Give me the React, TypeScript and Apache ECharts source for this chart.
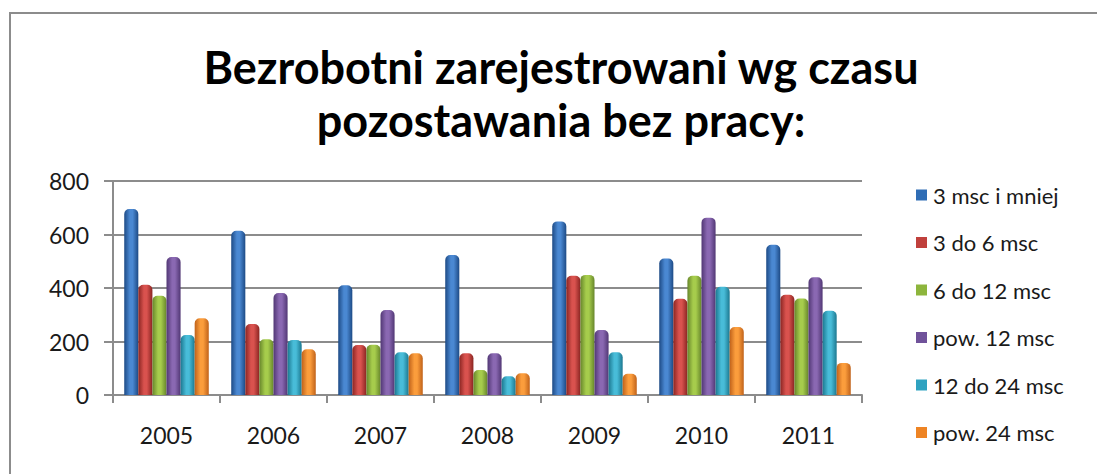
import React, { useEffect, useRef } from "react";
import * as echarts from "echarts";

const categories = ["2005", "2006", "2007", "2008", "2009", "2010", "2011"];
const seriesNames = ["3 msc i mniej", "3 do 6 msc", "6 do 12 msc", "pow. 12 msc", "12 do 24 msc", "pow. 24 msc"];
const s3mniej = [695, 614, 410, 523, 649, 510, 562];
const s3do6 = [412, 265, 187, 156, 446, 360, 375];
const s6do12 = [371, 208, 188, 93, 449, 446, 361];
const pow12 = [516, 381, 318, 156, 243, 663, 440];
const s12do24 = [224, 206, 160, 70, 160, 405, 315];
const pow24 = [287, 171, 156, 81, 79, 254, 120];
const yTicks = [0, 200, 400, 600, 800];

const seriesValues = [s3mniej, s3do6, s6do12, pow12, s12do24, pow24];
const palette = [
  { edge: "#1d4a85", mid: "#4a88d2", base: "#2f6db5" },
  { edge: "#8a2522", mid: "#d9524e", base: "#c0403c" },
  { edge: "#67862b", mid: "#a6cc4c", base: "#8db53c" },
  { edge: "#513774", mid: "#8a68b2", base: "#70529a" },
  { edge: "#1c7890", mid: "#48bcd8", base: "#2fa2c0" },
  { edge: "#c0621a", mid: "#fb9d3c", base: "#ee8424" },
];

function grad(p: { edge: string; mid: string }) {
  return new echarts.graphic.LinearGradient(0, 0, 1, 0, [
    { offset: 0, color: p.edge },
    { offset: 0.4, color: p.mid },
    { offset: 0.6, color: p.mid },
    { offset: 1, color: p.edge },
  ]);
}

export default function App() {
  const ref = useRef<HTMLDivElement>(null);
  useEffect(() => {
    if (!ref.current) return;
    const chart = echarts.init(ref.current, null, { renderer: "svg" });
    const font = "Lato, 'Open Sans', sans-serif";
    chart.setOption({
      animation: false,
      backgroundColor: "#ffffff",
      title: {
        text: "Bezrobotni zarejestrowani wg czasu\npozostawania bez pracy:",
        left: 556,
        textAlign: "center",
        top: 35,
        textStyle: {
          fontFamily: font,
          fontWeight: "bold",
          fontSize: 45,
          lineHeight: 53,
          color: "#000",
        },
      },
      graphic: [
        {
          type: "rect",
          shape: { x: 10, y: 13, width: 1100, height: 480 },
          style: { fill: "none", stroke: "#8c8c8c", lineWidth: 2 },
          silent: true,
        },
      ],
      legend: {
        orient: "vertical",
        left: 911,
        top: 179,
        itemWidth: 11,
        itemHeight: 11,
        itemGap: 25.5,
        icon: "rect",
        textStyle: { fontFamily: font, fontSize: 22, color: "#1a1a1a", lineHeight: 20, padding: [0, 0, 0, 1] },
        data: seriesNames.map((n, i) => ({ name: n, itemStyle: { color: palette[i].base } })),
      },
      grid: { left: 113, right: 235, top: 181, bottom: 79, containLabel: false },
      xAxis: {
        type: "category",
        data: categories,
        axisLine: { lineStyle: { color: "#8c8c8c", width: 2 } },
        axisTick: { show: true, length: 8, lineStyle: { color: "#8c8c8c", width: 2 } },
        axisLabel: { fontFamily: font, fontSize: 23, color: "#1a1a1a", margin: 28 },
      },
      yAxis: {
        type: "value",
        min: yTicks[0],
        max: yTicks[yTicks.length - 1],
        interval: 200,
        axisLine: { show: true, lineStyle: { color: "#8c8c8c", width: 2 } },
        axisTick: { show: true, length: 9, lineStyle: { color: "#8c8c8c", width: 2 } },
        splitLine: { lineStyle: { color: "#8c8c8c", width: 2 } },
        axisLabel: { fontFamily: font, fontSize: 23, color: "#1a1a1a", margin: 24 },
      },
      series: seriesNames.map((n, i) => ({
        name: n,
        type: "bar",
        data: seriesValues[i],
        barGap: "0%",
        barCategoryGap: "21%",
        itemStyle: { color: grad(palette[i]), borderRadius: [5, 5, 0, 0] },
      })),
    });
    return () => chart.dispose();
  }, []);
  return <div ref={ref} style={{ position: "fixed", left: 0, top: 0, width: 1097, height: 474 }} />;
}
